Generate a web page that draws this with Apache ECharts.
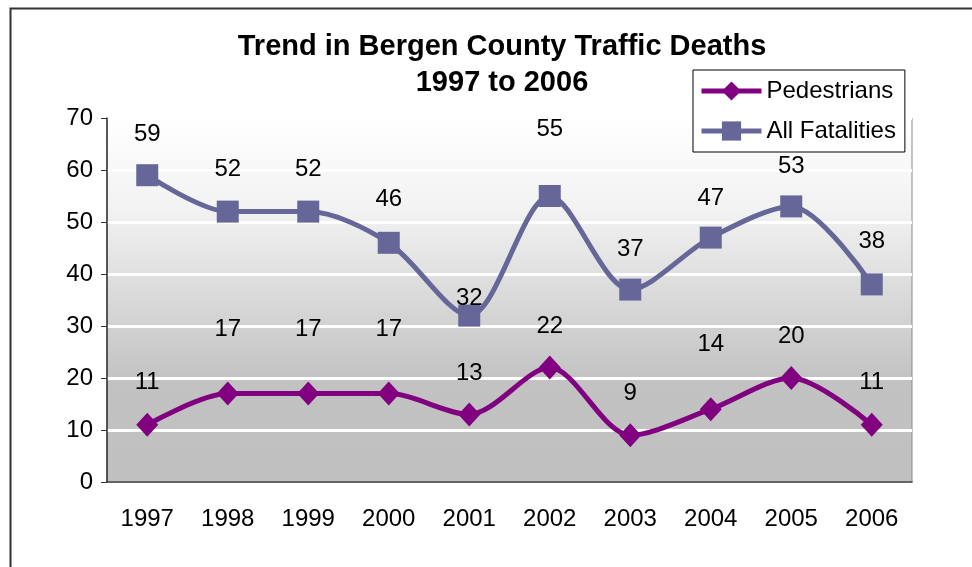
<!DOCTYPE html>
<html>
<head>
<meta charset="utf-8">
<script src="https://cdn.jsdelivr.net/npm/echarts@6/dist/echarts.min.js"></script>
<style>
  html, body { margin: 0; padding: 0; background: #fff; }
  #chart { width: 972px; height: 567px; }
</style>
</head>
<body>
<div id="chart"></div>
<script>
  const years = ['1997', '1998', '1999', '2000', '2001', '2002', '2003', '2004', '2005', '2006'];
  const pedestrians = [11, 17, 17, 17, 13, 22, 9, 14, 20, 11];
  const allFatalities = [59, 52, 52, 46, 32, 55, 37, 47, 53, 38];
  const yTicks = [0, 10, 20, 30, 40, 50, 60, 70];

  // how far above each point its label sits (labels were moved by hand in the original)
  const pedLift = [42, 64, 64, 64, 41, 41, 42, 65, 42, 42];
  const allLift = [41, 42, 42, 43, 17, 67, 40, 39, 40, 43];

  const font = 'Liberation Sans, Arial, sans-serif';

  function withLabels(values, lift) {
    return values.map((v, i) => ({
      value: v,
      label: { offset: [0, -lift[i]] }
    }));
  }

  let chart = echarts.init(document.getElementById('chart'));
  let option = {
    backgroundColor: '#fff',
    animation: false,
    textStyle: { fontFamily: font },
    graphic: [{
      type: 'rect',
      left: 8,
      top: 6,
      shape: { width: 1000, height: 600 },
      style: { fill: 'none', stroke: '#333', lineWidth: 2 },
      z: 100
    }],
    title: {
      text: 'Trend in Bergen County Traffic Deaths\n1997 to 2006',
      left: 497,
      textAlign: 'center',
      top: 24,
      textStyle: {
        fontFamily: font,
        fontSize: 29,
        fontWeight: 'bold',
        color: '#000',
        lineHeight: 36
      }
    },
    legend: {
      orient: 'vertical',
      left: 693,
      top: 70,
      padding: [9, 9, 9, 6],
      itemGap: 16,
      itemWidth: 60,
      itemHeight: 24,
      backgroundColor: '#fff',
      borderColor: '#000',
      borderWidth: 1,
      z: 10,
      lineStyle: { width: 5 },
      textStyle: { fontFamily: font, fontSize: 24, color: '#000' },
      data: ['Pedestrians', 'All Fatalities']
    },
    grid: {
      left: 107,
      right: 60,
      top: 118,
      bottom: 85,
      show: true,
      borderColor: '#888',
      borderWidth: 1,
      backgroundColor: {
        type: 'linear',
        x: 0, y: 0, x2: 0, y2: 1,
        colorStops: [
          { offset: 0, color: '#ffffff' },
          { offset: 0.25, color: '#f2f2f2' },
          { offset: 0.72, color: '#c2c2c2' },
          { offset: 1, color: '#c0c0c0' }
        ]
      }
    },
    xAxis: {
      type: 'category',
      data: years,
      boundaryGap: true,
      axisLine: { lineStyle: { color: '#333', width: 1.5 } },
      axisTick: { length: 7, lineStyle: { color: '#333' } },
      axisLabel: { fontFamily: font, fontSize: 24, color: '#000', margin: 25 },
      splitLine: { show: false }
    },
    yAxis: {
      type: 'value',
      min: yTicks[0],
      max: yTicks[yTicks.length - 1],
      interval: 10,
      axisLine: { show: true, lineStyle: { color: '#333', width: 1.5 } },
      axisTick: { show: true, length: 6, lineStyle: { color: '#333' } },
      axisLabel: { fontFamily: font, fontSize: 24, color: '#000', margin: 14 },
      splitLine: { show: true, lineStyle: { color: '#fff', width: 3 } }
    },
    series: [{
      name: 'Pedestrians',
      type: 'line',
      smooth: 0.3,
      symbol: 'diamond',
      symbolSize: [22, 24],
      data: withLabels(pedestrians, pedLift),
      lineStyle: { color: '#800080', width: 5 },
      itemStyle: { color: '#800080' },
      label: {
        show: true,
        position: 'inside',
        fontFamily: font,
        fontSize: 24,
        color: '#000'
      }
    }, {
      name: 'All Fatalities',
      type: 'line',
      smooth: 0.3,
      symbol: 'rect',
      symbolSize: 22,
      data: withLabels(allFatalities, allLift),
      lineStyle: { color: '#666699', width: 5 },
      itemStyle: { color: '#666699' },
      label: {
        show: true,
        position: 'inside',
        fontFamily: font,
        fontSize: 24,
        color: '#000'
      }
    }]
  };
  chart.setOption(option);
  window.onresize = function () {
    chart.resize();
  };
</script>
</body>
</html>
